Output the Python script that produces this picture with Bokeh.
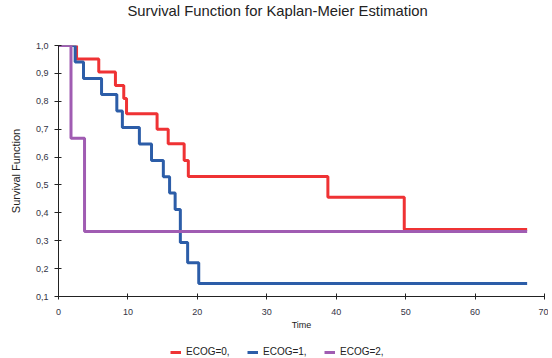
from bokeh.plotting import figure
from bokeh.layouts import column
from bokeh.models import Range1d, FixedTicker, CustomJSTickFormatter, Legend, LegendItem, Title
from bokeh.embed import file_html
from bokeh.resources import INLINE

# ECOG=0
t0 = [0, 2.6, 5.8, 8.2, 9.4, 9.8, 14.2, 15.8, 18.1, 18.7, 38.8, 49.8, 67.5]
s0 = [1.0, 0.952, 0.905, 0.857, 0.81, 0.755, 0.70, 0.648, 0.588, 0.53, 0.456, 0.34, 0.34]
# ECOG=1
t1 = [0, 2.4, 3.6, 6.2, 8.4, 9.2, 11.65, 13.4, 15.1, 16.0, 16.8, 17.55, 18.6, 20.2, 67.5]
s1 = [1.0, 0.941, 0.882, 0.824, 0.765, 0.706, 0.647, 0.588, 0.529, 0.471, 0.412, 0.294, 0.221, 0.147, 0.147]
# ECOG=2
t2 = [0, 1.8, 3.75, 67.5]
s2 = [1.0, 0.667, 0.333, 0.333]

names = ["ECOG=0,", "ECOG=1,", "ECOG=2,"]
colors = ["#ef3234", "#2c5da8", "#a05cb2"]
x_ticks = [0, 10, 20, 30, 40, 50, 60, 70]
y_ticks = [0.1, 0.2, 0.3, 0.4, 0.5, 0.6, 0.7, 0.8, 0.9, 1.0]

FONT = "Liberation Sans"

p = figure(width=548, height=334, output_backend="svg", toolbar_location=None,
           x_range=Range1d(0, 70), y_range=Range1d(0.1, 1.0),
           min_border_left=58, min_border_right=4, min_border_top=45, min_border_bottom=38)
p.title_location = None
spacer = Title(text=" ", text_font=FONT, text_font_size="10px", standoff=14)
title = Title(text="Survival Function for Kaplan-Meier Estimation", align="left", offset=69,
              text_font=FONT, text_font_size="14.8px", text_font_style="normal",
              text_color="#222222", standoff=0)
p.add_layout(spacer, "above")
p.add_layout(title, "above")
p.outline_line_color = None
p.xgrid.visible = False
p.ygrid.visible = False

series_t = [t0, t1, t2]
series_s = [s0, s1, s2]
for t, s, c in zip(series_t, series_s, colors):
    p.step(t, s, mode="after", line_color=c, line_width=3)

p.xaxis.ticker = FixedTicker(ticks=x_ticks)
p.yaxis.ticker = FixedTicker(ticks=y_ticks)
p.yaxis.formatter = CustomJSTickFormatter(code="return tick.toFixed(1).replace('.', ',');")
for ax in (p.xaxis, p.yaxis):
    ax.axis_line_color = "#222222"
    ax.major_tick_line_color = "#222222"
    ax.minor_tick_line_color = None
    ax.major_label_text_font = FONT
    ax.major_label_text_font_size = "9px"
    ax.major_label_text_color = "#333344"
    ax.axis_label_text_font = FONT
    ax.axis_label_text_font_style = "normal"
    ax.axis_label_text_color = "#222222"
p.xaxis.major_tick_in = 3
p.xaxis.major_tick_out = 3
p.yaxis.major_tick_in = 3
p.yaxis.major_tick_out = 4
p.xaxis.major_label_standoff = 9
p.yaxis.major_label_standoff = 6
p.xaxis.axis_label = "Time"
p.xaxis.axis_label_text_font_size = "9px"
p.xaxis.axis_label_standoff = 2
p.yaxis.axis_label = "Survival Function"
p.yaxis.axis_label_text_font_size = "11px"
p.yaxis.axis_label_standoff = 11

# legend strip below the chart (single-point lines: nothing visible, only legend swatches)
lg = figure(width=548, height=24, output_backend="svg", toolbar_location=None,
            x_range=Range1d(0, 548), y_range=Range1d(0, 24),
            x_axis_type=None, y_axis_type=None,
            min_border_left=0, min_border_right=0, min_border_top=0, min_border_bottom=0)
lg.outline_line_color = None
lg.xgrid.visible = False
lg.ygrid.visible = False
lg_renderers = [lg.line(x=t[:1], y=s[:1], line_color=c, line_width=3)
                for t, s, c in zip(series_t, series_s, colors)]
legend = Legend(items=[LegendItem(label=n, renderers=[r]) for n, r in zip(names, lg_renderers)],
                orientation="horizontal", location=(112, 1),
                label_text_font=FONT, label_text_font_size="10px", label_text_color="#222222",
                glyph_width=11, glyph_height=10, label_height=10, label_standoff=5,
                label_width=50, spacing=11, padding=0, margin=0,
                border_line_color=None, background_fill_alpha=0)
lg.add_layout(legend)

layout = column(p, lg, spacing=0)
open("out.html", "w").write(file_html(layout, INLINE))
